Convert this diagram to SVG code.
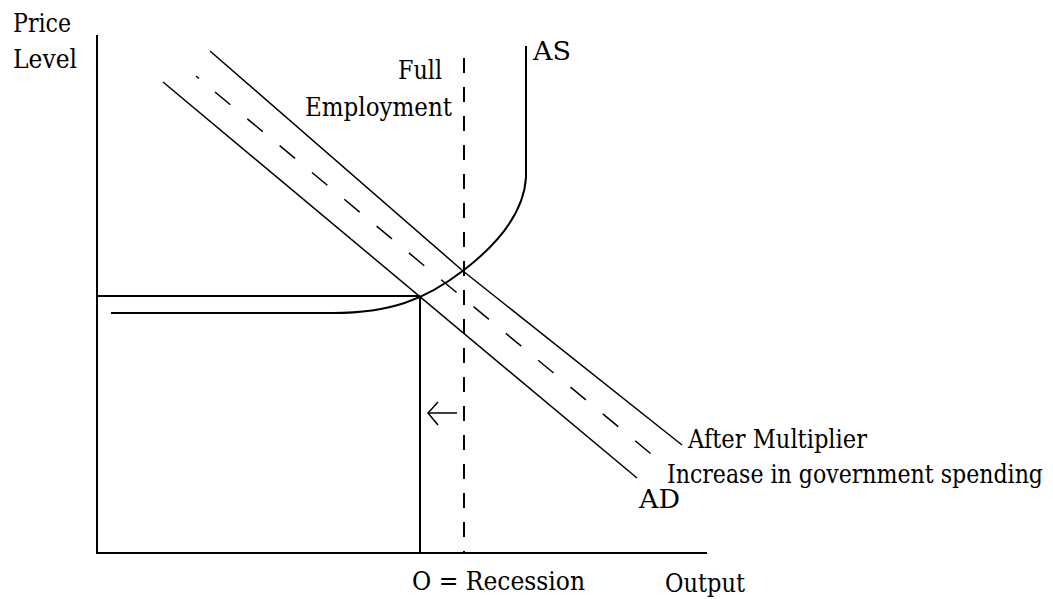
<svg xmlns="http://www.w3.org/2000/svg" width="1053" height="599" viewBox="0 0 1053 599">
<style>
text{font-family:"DejaVu Serif","Liberation Serif",serif;font-size:26px;fill:#000}
.ax{stroke:#000;stroke-width:2;fill:none}
.dg{stroke:#000;stroke-width:1.5;fill:none}
</style>
<rect width="1053" height="599" fill="#fff"/>
<g id="connectors">
<line class="ax" x1="97" y1="35" x2="97" y2="553"/>
<line class="ax" x1="96" y1="553" x2="707" y2="553"/>
<line class="ax" x1="97" y1="296" x2="420" y2="296"/>
<line class="ax" x1="420" y1="296" x2="420" y2="553"/>
<line class="ax" x1="464" y1="58" x2="464" y2="553" stroke-dasharray="15 14"/>
<path class="ax" d="M111,313 L333,313 C390,313 425,300 464,270 C495,246 524,215 526,177 L526,46"/>
<polyline class="dg" points="210,51 463,271 682,445"/>
<line class="dg" x1="163" y1="82" x2="637" y2="478"/>
<line class="dg" x1="196" y1="76" x2="199" y2="78.5"/>
<line class="dg" x1="215" y1="92" x2="662" y2="463" stroke-dasharray="20 22"/>
<g id="arrow" class="dg">
<line x1="428" y1="413" x2="457" y2="413"/>
<polyline points="438,402 428,413 438,425"/>
</g>
</g>
<g id="axis-labels">
<text x="13" y="32" textLength="58" lengthAdjust="spacingAndGlyphs">Price</text>
<text x="13" y="68" textLength="64" lengthAdjust="spacingAndGlyphs">Level</text>
<text x="665" y="592" textLength="80" lengthAdjust="spacingAndGlyphs">Output</text>
<text x="412" y="590" textLength="173" lengthAdjust="spacingAndGlyphs">O = Recession</text>
</g>
<g id="full-employment"><text x="398" y="79" textLength="44" lengthAdjust="spacingAndGlyphs">Full</text><text x="305" y="116" textLength="147" lengthAdjust="spacingAndGlyphs">Employment</text></g>
<g id="as-label"><text x="533" y="60" textLength="38" lengthAdjust="spacingAndGlyphs">AS</text></g>
<g id="after-multiplier"><text x="688" y="448" textLength="179" lengthAdjust="spacingAndGlyphs">After Multiplier</text></g>
<g id="gov-spending"><text x="667" y="483" textLength="376" lengthAdjust="spacingAndGlyphs">Increase in government spending</text></g>
<g id="ad-label"><text x="639" y="508" textLength="41" lengthAdjust="spacingAndGlyphs">AD</text></g>
</svg>
